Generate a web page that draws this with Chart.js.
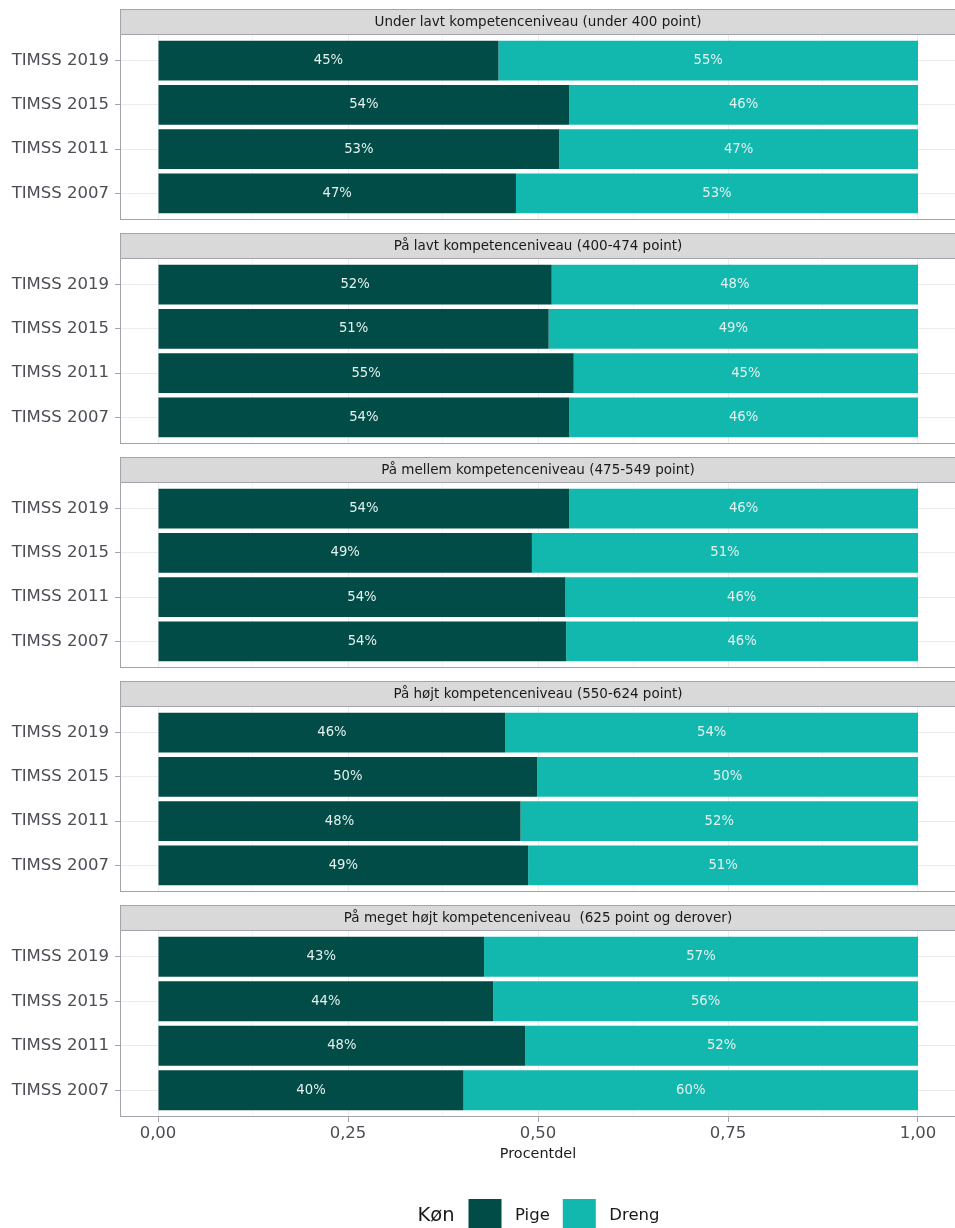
<!DOCTYPE html>
<html>
<head>
<meta charset="utf-8">
<script src="https://cdn.jsdelivr.net/npm/chart.js@4.4.0/dist/chart.umd.min.js"></script>
<style>
html, body { margin: 0; padding: 0; background: #fff; overflow: hidden; }
#wrap { position: relative; width: 955px; height: 1228px; overflow: hidden; }
#wrap canvas { position: absolute; left: 0; }
</style>
</head>
<body>
<div id="wrap"></div>
<script>
// data
const aar = ['TIMSS 2019', 'TIMSS 2015', 'TIMSS 2011', 'TIMSS 2007'];
const niveauer = [
  'Under lavt kompetenceniveau (under 400 point)',
  'På lavt kompetenceniveau (400-474 point)',
  'På mellem kompetenceniveau (475-549 point)',
  'På højt kompetenceniveau (550-624 point)',
  'På meget højt kompetenceniveau  (625 point og derover)'
];
const koen = ['Pige', 'Dreng'];

const pigeUnderLavt = [0.448, 0.541, 0.528, 0.471];
const drengUnderLavt = [0.552, 0.459, 0.472, 0.529];
const pigeLavt = [0.518, 0.514, 0.547, 0.541];
const drengLavt = [0.482, 0.486, 0.453, 0.459];
const pigeMellem = [0.541, 0.492, 0.536, 0.537];
const drengMellem = [0.459, 0.508, 0.464, 0.463];
const pigeHoejt = [0.457, 0.499, 0.477, 0.487];
const drengHoejt = [0.543, 0.501, 0.523, 0.513];
const pigeMegetHoejt = [0.429, 0.441, 0.483, 0.402];
const drengMegetHoejt = [0.571, 0.559, 0.517, 0.598];

const xMajor = [0, 0.25, 0.5, 0.75, 1];
const xMinor = [0.125, 0.375, 0.625, 0.875];

const pige = [pigeUnderLavt, pigeLavt, pigeMellem, pigeHoejt, pigeMegetHoejt];
const dreng = [drengUnderLavt, drengLavt, drengMellem, drengHoejt, drengMegetHoejt];

// farver og maal
const mork = '#014c47';
const lys = '#12b8ae';
const kant = '#a3a3ab';
const gitter = '#ebebeb';
const gitterMinor = '#f5f5f5';
const FONT = 'DejaVu Sans';
const FACET_H = 224;

const wrap = document.getElementById('wrap');

let lavPanelPlugin = (titel) => ({
  id: 'panel',
  beforeDraw(chart) {
    const {ctx, chartArea: a} = chart;
    ctx.save();
    ctx.fillStyle = '#d9d9d9';
    ctx.fillRect(a.left, 9, a.right - a.left, a.top - 9);
    ctx.strokeStyle = kant;
    ctx.lineWidth = 1;
    ctx.strokeRect(a.left + 0.5, 9.5, a.right - a.left - 1, a.top - 9);
    ctx.fillStyle = '#1a1a1a';
    ctx.font = '13.5px "' + FONT + '"';
    ctx.textAlign = 'center';
    ctx.textBaseline = 'middle';
    ctx.fillText(titel, (a.left + a.right) / 2, (9 + a.top) / 2 + 1);
    ctx.restore();
  },
  afterDatasetsDraw(chart) {
    const ctx = chart.ctx;
    ctx.save();
    ctx.font = '13.2px "' + FONT + '"';
    ctx.fillStyle = '#e4f1ef';
    ctx.textAlign = 'center';
    ctx.textBaseline = 'middle';
    chart.data.datasets.forEach((ds, di) => {
      chart.getDatasetMeta(di).data.forEach((bar, i) => {
        const v = ds.data[i].x;
        ctx.fillText(Math.round(v * 100) + '%', (bar.x + bar.base) / 2, bar.y);
      });
    });
    const a = chart.chartArea;
    ctx.strokeStyle = kant;
    ctx.lineWidth = 1;
    ctx.strokeRect(a.left + 0.5, a.top + 0.5, a.right - a.left - 1, a.bottom - a.top - 1);
    ctx.restore();
  },
  afterLayout(chart) {
    const lg = chart.legend;
    if (lg && lg.options.display) {
      lg.left = 172;
    }
  },
  afterDraw(chart) {
    const lg = chart.legend;
    if (!lg || !lg.options.display || !lg.legendHitBoxes.length) return;
    const hb = lg.legendHitBoxes[0];
    const ctx = chart.ctx;
    ctx.save();
    ctx.font = '19.5px "' + FONT + '"';
    ctx.fillStyle = '#1a1a1a';
    ctx.textAlign = 'right';
    ctx.textBaseline = 'middle';
    ctx.fillText('Køn', hb.left - 14, hb.top + hb.height / 2);
    ctx.restore();
  }
});

niveauer.forEach((titel, k) => {
  const sidste = k === niveauer.length - 1;
  const canvas = document.createElement('canvas');
  canvas.width = 956;
  canvas.height = sidste ? 346 : FACET_H;
  canvas.style.top = (k * FACET_H) + 'px';
  wrap.appendChild(canvas);

  new Chart(canvas.getContext('2d'), {
    type: 'bar',
    data: {
      datasets: [
        {
          label: koen[0],
          data: pige[k].map((v, i) => ({x: v, y: i + 1})),
          backgroundColor: mork,
          borderWidth: 0,
          barPercentage: 0.9,
          categoryPercentage: 1
        },
        {
          label: koen[1],
          data: dreng[k].map((v, i) => ({x: v, y: i + 1})),
          backgroundColor: lys,
          borderWidth: 0,
          barPercentage: 0.9,
          categoryPercentage: 1
        }
      ]
    },
    options: {
      indexAxis: 'y',
      responsive: false,
      animation: false,
      events: [],
      layout: {padding: {top: 34, bottom: sidste ? 0 : 4, left: 0, right: 0}},
      scales: {
        x: {
          type: 'linear',
          min: -0.05,
          max: 1.05,
          offset: false,
          stacked: true,
          afterBuildTicks: (s) => {
            s.ticks = xMajor.concat(xMinor).sort((a, b) => a - b).map(v => ({value: v}));
          },
          afterFit: (s) => {
            s.height = sidste ? 69 : 0;
            s.paddingLeft = 0;
            s.paddingRight = 0;
          },
          border: {display: false},
          grid: {
            offset: false,
            color: (c) => (c.tick && xMajor.includes(c.tick.value)) ? gitter : gitterMinor,
            lineWidth: 1,
            drawTicks: sidste,
            tickLength: 5,
            tickColor: (c) => (c.tick && xMajor.includes(c.tick.value)) ? kant : 'rgba(0,0,0,0)'
          },
          ticks: {
            display: sidste,
            autoSkip: false,
            maxRotation: 0,
            padding: 2,
            color: '#4d4d55',
            font: {family: FONT, size: 16.5},
            callback: (v) => xMajor.includes(v) ? v.toFixed(2).replace('.', ',') : ''
          },
          title: {
            display: sidste,
            text: 'Procentdel',
            color: '#1a1a1a',
            font: {family: FONT, size: 14.4},
            padding: {top: 0, bottom: 23}
          }
        },
        y: {
          type: 'linear',
          min: 0.4,
          max: 4.6,
          reverse: true,
          offset: false,
          stacked: true,
          afterBuildTicks: (s) => {
            s.ticks = aar.map((a, i) => ({value: i + 1}));
          },
          afterFit: (s) => {
            s.width = 120;
            s.paddingTop = 0;
            s.paddingBottom = 0;
          },
          border: {display: false},
          grid: {offset: false, color: gitter, lineWidth: 1, tickLength: 5, tickColor: kant},
          ticks: {
            autoSkip: false,
            padding: 6,
            color: '#4d4d55',
            font: {family: FONT, size: 16.5},
            callback: (v) => aar[v - 1]
          }
        }
      },
      plugins: {
        tooltip: {enabled: false},
        legend: {
          display: sidste,
          position: 'bottom',
          labels: {
            boxWidth: 33,
            boxHeight: 33,
            padding: 13,
            color: '#1a1a1a',
            font: {family: FONT, size: 16.5},
            generateLabels: (chart) => Chart.defaults.plugins.legend.labels.generateLabels(chart)
              .map(item => Object.assign(item, {text: ' ' + item.text}))
          }
        }
      }
    },
    plugins: [lavPanelPlugin(titel)]
  });
});
</script>
</body>
</html>
